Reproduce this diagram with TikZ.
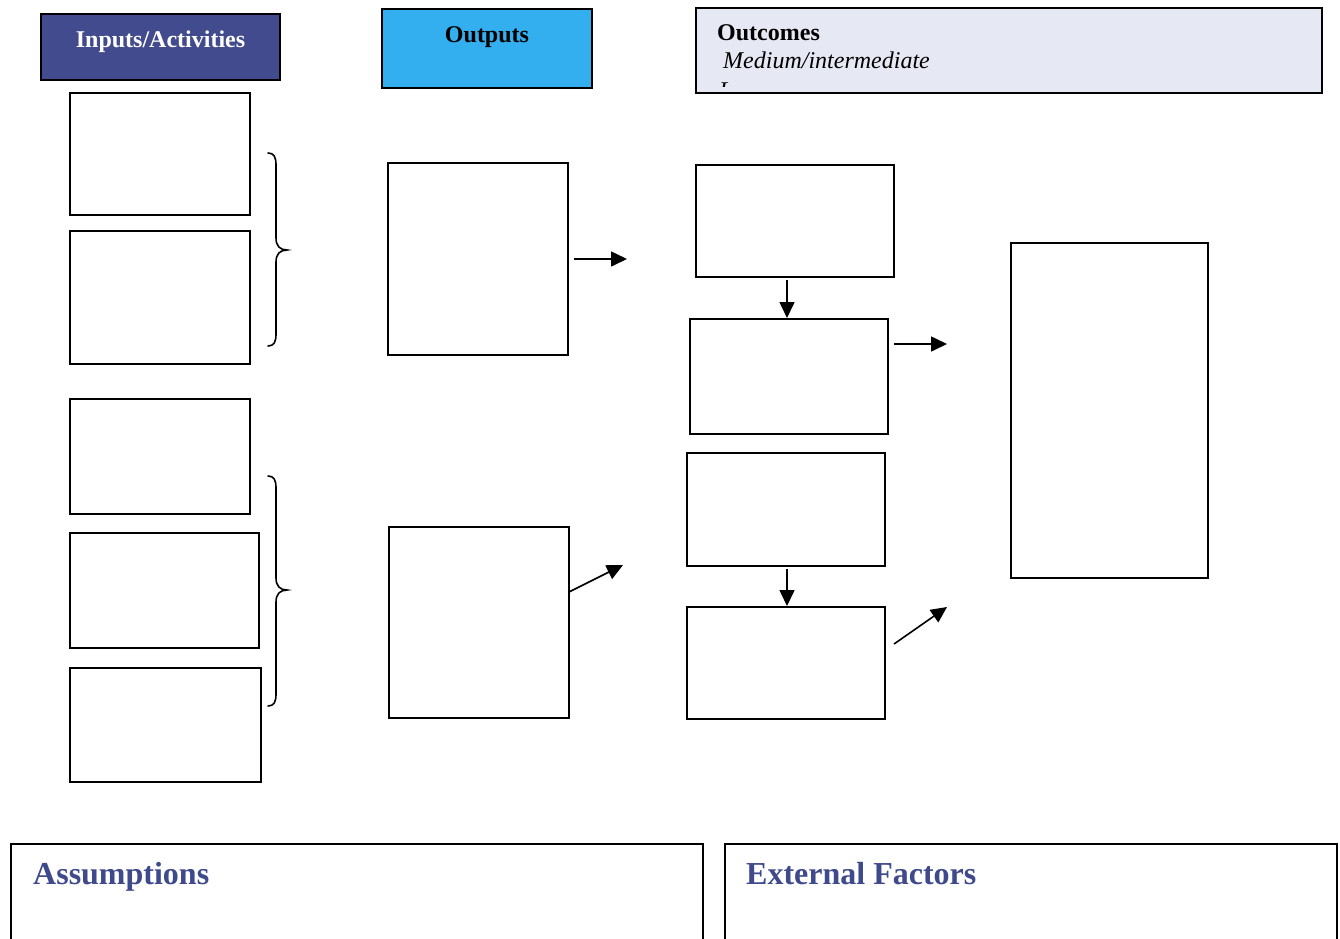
\documentclass[tikz,border=0pt]{standalone}
\usepackage{fontspec}
\setmainfont{Liberation Serif}
\usetikzlibrary{arrows.meta}
\definecolor{inpblue}{HTML}{424B8E}
\definecolor{outblue}{HTML}{33AEEE}
\definecolor{outcfill}{HTML}{E6E9F3}
\definecolor{asstext}{HTML}{3F4A8C}
\tikzset{
  box/.style={draw=black, line width=1.8pt, rectangle, inner sep=0pt, outer sep=0pt, anchor=north west, fill=white},
  flow/.style={line width=1.6pt, -{Triangle[length=16pt,width=15pt]}},
  bracepath/.style={line width=1.6pt, line cap=round},
  head/.style={font=\fontsize{24}{28}\selectfont\bfseries, inner sep=0pt, anchor=base},
  bighead/.style={font=\fontsize{32}{36}\selectfont\bfseries, text=asstext, inner sep=0pt, anchor=base west},
}
\begin{document}
\begin{tikzpicture}[x=1pt,y=-1pt]
\useasboundingbox[fill=white] (0,0) rectangle (1340,938);

% headers
\node[box, fill=inpblue, minimum width=239pt, minimum height=66pt] (hin) at (41,14) {};
\node[head, text=white] (hintext) at (160.5,47) {Inputs/Activities};
\node[box, fill=outblue, minimum width=210pt, minimum height=79pt] (hout) at (382,9) {};
\node[head] (houttext) at (487,42) {Outputs};
\node[box, fill=outcfill, minimum width=626pt, minimum height=85pt] (hoc) at (696,8) {};
\node[head, anchor=base west] (hoctext) at (717,40) {Outcomes};
\node[font=\fontsize{24}{28}\selectfont\itshape, inner sep=0pt, anchor=base west] (hmed) at (723,68) {Medium/intermediate};
\begin{scope}
\clip (700,70) rectangle (1300,86);
\node[font=\fontsize{24}{28}\selectfont\itshape, inner sep=0pt, anchor=base west] (hlong) at (719,98) {L};
\end{scope}

% inputs
\node[box, minimum width=180pt, minimum height=122pt] (i1) at (70,93) {};
\node[box, minimum width=180pt, minimum height=133pt] (i2) at (70,231) {};
\node[box, minimum width=180pt, minimum height=115pt] (i3) at (70,399) {};
\node[box, minimum width=189pt, minimum height=115pt] (i4) at (70,533) {};
\node[box, minimum width=191pt, minimum height=114pt] (i5) at (70,668) {};

% braces
\draw[bracepath] (268,153) .. controls (274,153) and (276,157) .. (276,165) -- (276,238)
  .. controls (276,246) and (280,250) .. (287,250)
  .. controls (280,250) and (276,254) .. (276,262) -- (276,334)
  .. controls (276,342) and (274,346) .. (268,346);
\draw[bracepath] (268,476) .. controls (274,476) and (276,480) .. (276,488) -- (276,578)
  .. controls (276,586) and (280,590) .. (287,590)
  .. controls (280,590) and (276,594) .. (276,602) -- (276,694)
  .. controls (276,702) and (274,706) .. (268,706);

% outputs
\node[box, minimum width=180pt, minimum height=192pt] (o1) at (388,163) {};
\node[box, minimum width=180pt, minimum height=191pt] (o2) at (389,527) {};

% outcomes
\node[box, minimum width=198pt, minimum height=112pt] (m1) at (696,165) {};
\node[box, minimum width=198pt, minimum height=115pt] (m2) at (690,319) {};
\node[box, minimum width=198pt, minimum height=113pt] (m3) at (687,453) {};
\node[box, minimum width=198pt, minimum height=112pt] (m4) at (687,607) {};
\node[box, minimum width=197pt, minimum height=335pt] (lt) at (1011,243) {};

% arrows
\coordinate (a1s) at (574,259);
\coordinate (a1e) at (627,259);
\draw[flow] (a1s) -- (a1e);
\coordinate (a2s) at (569,592);
\coordinate (a2e) at (623,565);
\draw[flow] (a2s) -- (a2e);
\coordinate (v1s) at (787,280);
\coordinate (v1e) at (787,318);
\draw[flow] (v1s) -- (v1e);
\coordinate (v2s) at (787,569);
\coordinate (v2e) at (787,606);
\draw[flow] (v2s) -- (v2e);
\coordinate (a3s) at (894,344);
\coordinate (a3e) at (947,344);
\draw[flow] (a3s) -- (a3e);
\coordinate (a4s) at (894,644);
\coordinate (a4e) at (947,607);
\draw[flow] (a4s) -- (a4e);

% bottom boxes
\draw[line width=1.8pt] (11,940) -- (11,844) -- (703,844) -- (703,940);
\node[bighead] (ass) at (33,884) {Assumptions};
\draw[line width=1.8pt] (725,940) -- (725,844) -- (1337,844) -- (1337,940);
\node[bighead] (ext) at (746,884) {External Factors};
\end{tikzpicture}
\end{document}
